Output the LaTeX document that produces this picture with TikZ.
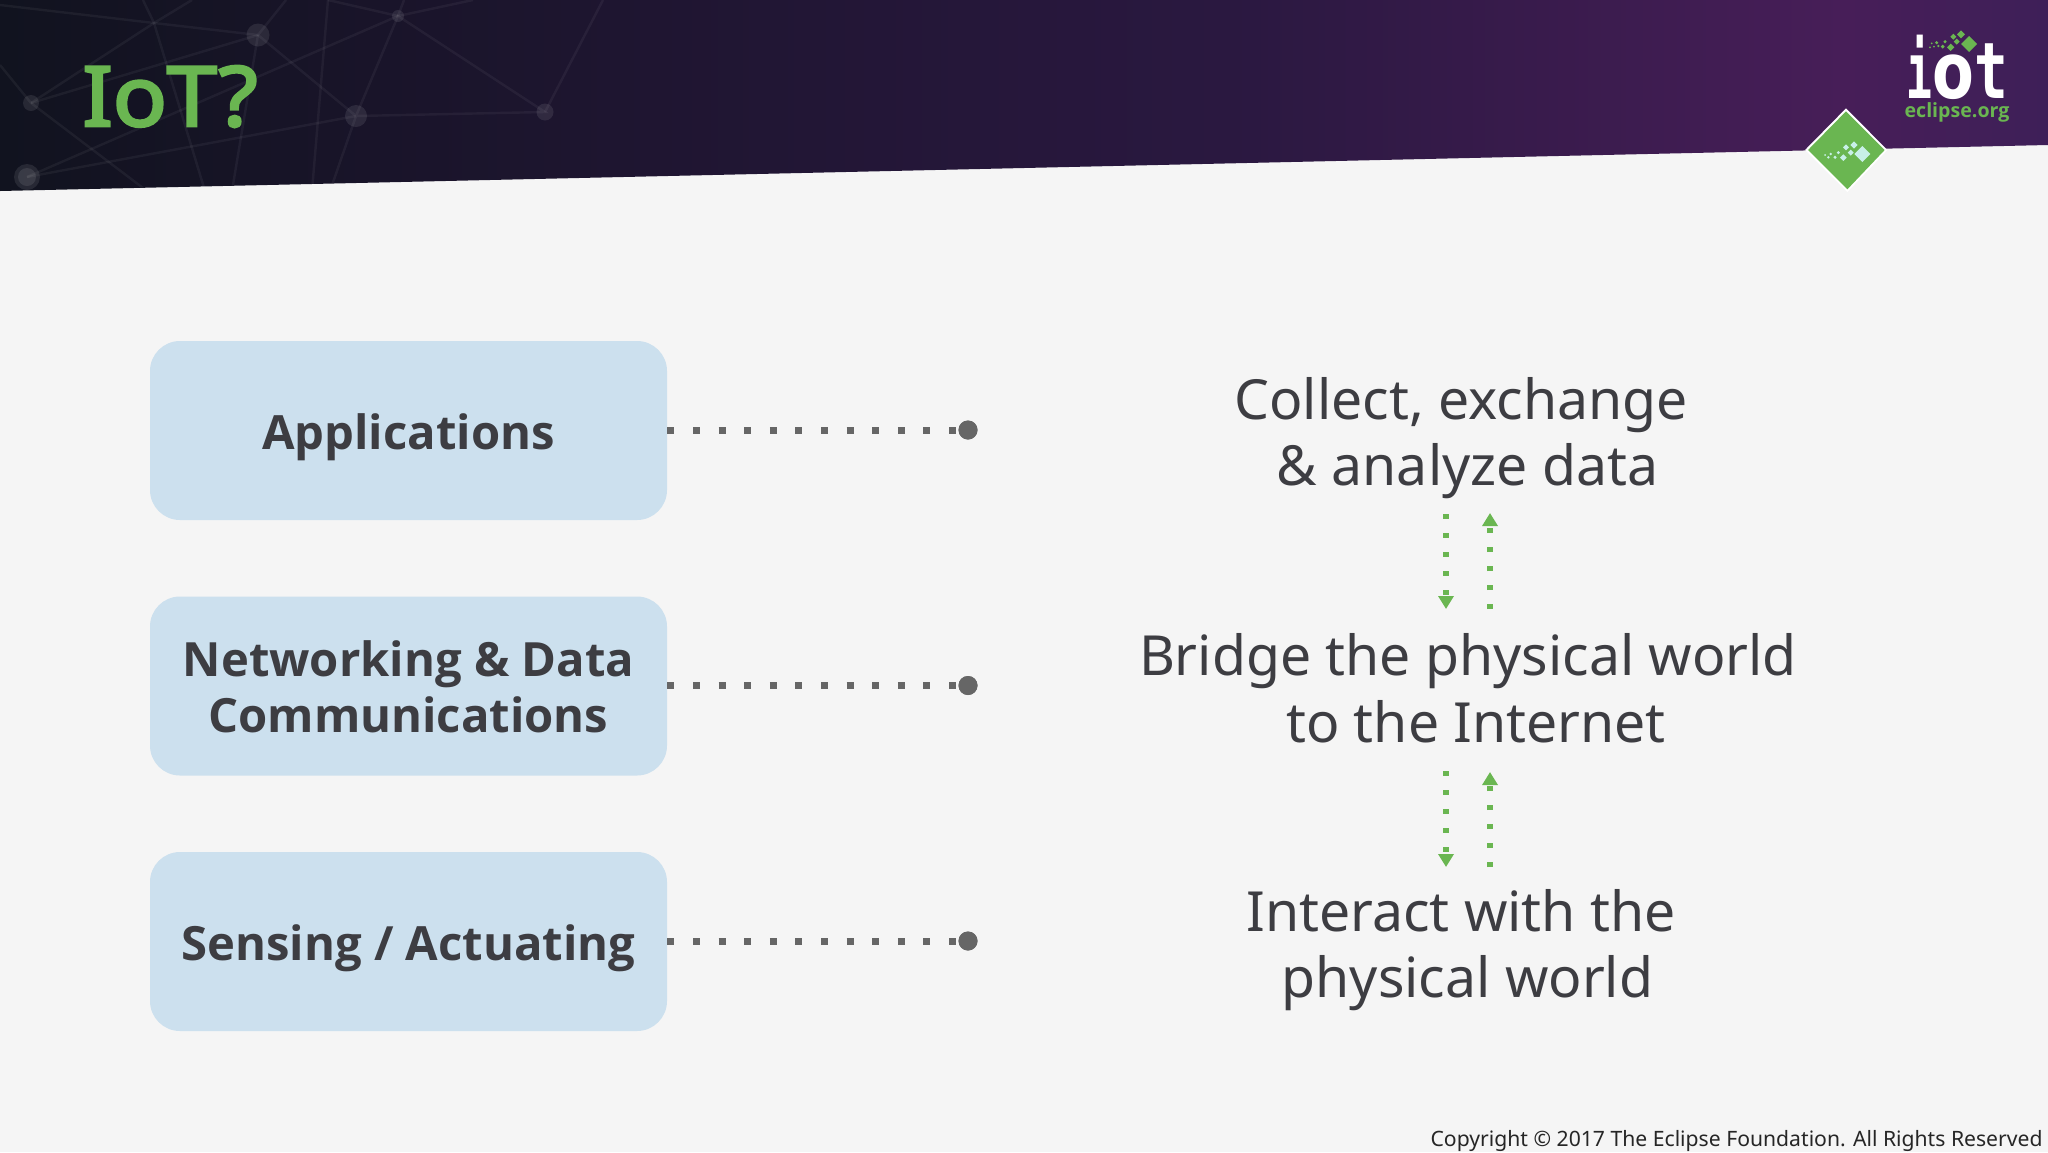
\documentclass[tikz,border=0pt]{standalone}
\usepackage{fontspec}
\usepackage{graphicx}
\setmainfont{Noto Sans}
\newfontfamily\boxfont{Open Sans}
\newfontfamily\titlefont{Noto Sans}[FakeBold=3.2]
\newfontfamily\logofont{DejaVu Sans Mono}
\newfontfamily\logoround{DejaVu Sans}
\usetikzlibrary{arrows.meta}
\definecolor{bgc}{HTML}{F5F5F5}
\definecolor{boxc}{HTML}{CCE0EE}
\definecolor{inkc}{HTML}{3D3D42}
\definecolor{dotc}{HTML}{666666}
\definecolor{greenc}{HTML}{6AB651}
\definecolor{paleg}{HTML}{C8F0E8}
\definecolor{ha}{HTML}{11131F}
\definecolor{hb}{HTML}{1E1530}
\definecolor{hc}{HTML}{2A1840}
\definecolor{hd}{HTML}{471E58}
\definecolor{he}{HTML}{3E1F58}
\pgfdeclarehorizontalshading{hdr}{100bp}{color(0bp)=(ha);color(25bp)=(ha);color(40bp)=(hb);color(55bp)=(hc);color(70bp)=(hd);color(75bp)=(he);color(100bp)=(he)}
\newcommand{\diam}[3]{\fill (#1+#3,#2)--(#1,#2+#3)--(#1-#3,#2)--(#1,#2-#3)--cycle;}
\tikzset{
  layerbox/.style={fill=boxc,rounded corners=15pt,minimum width=258.5pt,minimum height=89.5pt,inner sep=0pt,align=center,text=inkc,font=\boxfont\fontsize{23.6}{28}\selectfont\bfseries},
  enddot/.style={circle,fill=dotc,minimum size=9.5pt,inner sep=0pt},
  link/.style={draw=dotc,line width=3.5pt,dash pattern=on 3.5pt off 9.3pt},
  desc/.style={align=center,text=inkc,font=\fontsize{27.66}{33.3}\selectfont},
  flow/.style={draw=greenc,line width=2.7pt,dash pattern=on 2.7pt off 6.8pt,-{Triangle[width=7.5pt,length=6.5pt]}},
  netline/.style={draw=white,opacity=.05,line width=1.2pt},
  hub/.style={fill=white,opacity=.09}
}
\begin{document}
\begin{tikzpicture}[x=.5pt,y=-.5pt]
\useasboundingbox (0,0) rectangle (2048,1152);
\fill[bgc] (0,0) rectangle (2048,1152);
% header band
\begin{scope}
\clip (0,191) -- (2048,145) -- (2048,0) -- (0,0) -- cycle;
\shade[shading=hdr] (0,0) rectangle (2048,191);
\draw[netline] (0,5)--(154,23)--(258,35);
\draw[netline] (143,0)--(154,23)--(205,191);
\draw[netline] (192,0)--(154,23)--(31,103);
\draw[netline] (0,65)--(31,103)--(147,191);
\draw[netline] (31,103)--(258,35)--(286,0);
\draw[netline] (258,35)--(356,116)--(545,112)--(398,16)--(356,116)--(330,191);
\draw[netline] (258,35)--(232,191);
\draw[netline] (328,0)--(312,191);
\draw[netline] (27,177)--(398,16)--(473,0);
\draw[netline] (27,177)--(356,116);
\draw[netline] (398,16)--(404,0);
\draw[netline] (398,16)--(328,0);
\draw[netline] (545,112)--(603,0);
\fill[hub] (258,35) circle (11.5);
\fill[hub] (398,16) circle (6);
\fill[hub] (31,103) circle (8);
\fill[hub] (356,116) circle (11);
\fill[hub] (545,112) circle (8.5);
\fill[hub] (27,177) circle (13);
\fill[hub] (27,177) circle (9);
\end{scope}
% title
\node[anchor=base,text=greenc,xscale=1.08,font=\titlefont\fontsize{41.5}{50}\selectfont,inner sep=0pt] (title) at (170,126) {IoT?};
% logo
\node[anchor=base,text=white,inner sep=0pt,text depth=0pt,font=\fontsize{39}{39}\selectfont\bfseries] (logoiot) at (1957.5,98) {\scalebox{.55}[1]{\logofont i}\scalebox{.78}[1]{\logoround o}\scalebox{.72}[1]{\logofont t}};
\node[anchor=base,text=greenc,inner sep=0pt,font=\boxfont\fontsize{9.8}{12}\selectfont\bfseries] (logoorg) at (1957,117) {eclipse.org};
\begin{scope}[shift={(1760,0)},scale=1/3]
\fill[white] (258,325)--(382,450)--(262,576)--(135,450)--cycle;
\fill[greenc] (258,334)--(374,450)--(262,568)--(144,450)--cycle;
\begin{scope}[greenc]
\diam{627}{132}{24}\diam{603}{103}{12}\diam{580}{110}{9}\diam{590}{125}{9}\diam{572}{142}{11}
\diam{555}{125}{5}\diam{548}{140}{6}\diam{530}{128}{5}\diam{535}{138}{4}\diam{515}{130}{3}\diam{510}{142}{3}\diam{522}{140}{3}
\end{scope}
\begin{scope}[paleg]
\diam{307}{462}{24}\diam{282}{435}{11}\diam{258}{442}{9}\diam{272}{458}{9}\diam{250}{473}{10}
\diam{235}{458}{5}\diam{225}{472}{5}\diam{212}{462}{4}\diam{205}{472}{4}\diam{195}{465}{3}
\end{scope}
\end{scope}
% boxes
\node[layerbox] (app) at (408.5,430.5) {\rule{0pt}{24.4pt}Applications};
\node[layerbox] (netw) at (408.5,686) {\rule{0pt}{19.2pt}Networking \& Data\\Communications};
\node[layerbox] (sense) at (408.5,941.5) {\rule{0pt}{24.4pt}Sensing / Actuating};
\node[enddot] (d1) at (968,430) {};
\node[enddot] (d2) at (968,685.5) {};
\node[enddot] (d3) at (968,941) {};
\foreach \a/\b in {app/d1,netw/d2,sense/d3}{
  \draw[link] (\a.east |- \b) -- (\b.center);
  \node[enddot] at (\b) {};
}
% descriptions
\node[desc] (t1) at (1467.5,438) {Collect, exchange\hspace*{6.5pt}\\\& analyze data};
\node[desc] (t2) at (1476,688) {Bridge the physical world\hspace*{8pt}\\to the Internet};
\node[desc] (t3) at (1467.5,950) {Interact with the\hspace*{6.5pt}\\physical world};
% flows
\coordinate (a1) at (1446,514); \coordinate (a2) at (1446,609);
\coordinate (b1) at (1490,609); \coordinate (b2) at (1490,513);
\coordinate (c1) at (1446,771); \coordinate (c2) at (1446,867);
\coordinate (e1) at (1490,867); \coordinate (e2) at (1490,772);
\draw[flow] (a1)--(a2);
\draw[flow] (b1)--(b2);
\draw[flow] (c1)--(c2);
\draw[flow] (e1)--(e2);
% copyright
\node[anchor=base east,inner sep=0pt,text=black!85,font=\fontsize{10.58}{14}\selectfont] (copy) at (2043,1146) {Copyright © 2017 The Eclipse Foundation. All Rights Reserved};
\end{tikzpicture}
\end{document}
